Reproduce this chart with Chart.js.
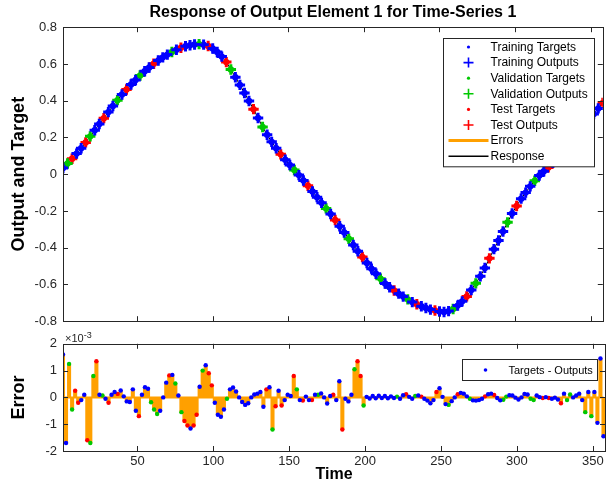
<!DOCTYPE html>
<html>
<head>
<meta charset="utf-8">
<title>Response of Output Element 1 for Time-Series 1</title>
<script src="https://cdn.jsdelivr.net/npm/chart.js@4.4.1/dist/chart.umd.min.js"></script>
<style>
  html, body { margin: 0; padding: 0; background: #fff; }
  #wrap { position: relative; width: 611px; height: 486px; overflow: hidden; }
  #top { position: absolute; left: 0; top: 0; }
  #bottom { position: absolute; left: 0; top: 330px; }
</style>
</head>
<body>
<div id="wrap">
  <canvas id="top" width="611" height="335"></canvas>
  <canvas id="bottom" width="611" height="156"></canvas>
</div>
<script>
// ---- data ----
// response curve, sampled every 3 time steps (outputs sit on the targets, error is ~1e-3)
const topTime = [1,4,7,10,13,16,19,22,25,28,31,34,37,40,43,46,49,52,55,58,
  61,64,67,70,73,76,79,82,85,88,91,94,97,100,103,106,109,112,115,118,
  121,124,127,130,133,136,139,142,145,148,151,154,157,160,163,166,169,172,175,178,
  181,184,187,190,193,196,199,202,205,208,211,214,217,220,223,226,229,232,235,238,
  241,244,247,250,253,256,259,262,265,268,271,274,277,280,283,286,289,292,295,298,
  301,304,307,310,313,316,319,322,325,328,331,334,337,340,343,346,349,352,355,358];
const targets = [0.034,0.058,0.084,0.112,0.141,0.173,0.206,0.239,0.273,0.305,
  0.338,0.371,0.403,0.434,0.461,0.488,0.513,0.537,0.560,0.581,
  0.601,0.619,0.636,0.651,0.665,0.677,0.688,0.696,0.702,0.706,
  0.708,0.705,0.698,0.684,0.665,0.640,0.610,0.570,0.528,0.486,
  0.442,0.398,0.354,0.306,0.257,0.215,0.176,0.141,0.108,0.079,
  0.050,0.023,-0.005,-0.034,-0.063,-0.094,-0.125,-0.156,-0.186,-0.217,
  -0.249,-0.283,-0.317,-0.351,-0.385,-0.419,-0.451,-0.483,-0.514,-0.542,
  -0.569,-0.595,-0.615,-0.633,-0.650,-0.666,-0.681,-0.696,-0.708,-0.719,
  -0.728,-0.737,-0.742,-0.747,-0.750,-0.745,-0.734,-0.715,-0.692,-0.665,
  -0.630,-0.594,-0.556,-0.510,-0.458,-0.408,-0.361,-0.312,-0.262,-0.214,
  -0.173,-0.133,-0.100,-0.066,-0.036,-0.007,0.016,0.037,0.062,0.090,
  0.118,0.147,0.176,0.206,0.236,0.267,0.297,0.328,0.358,0.388];
// b = training, g = validation, r = test
const topSplit = ("bgrbbrgbbr" + "bbgbrbbgbb" + "rbbbgbrbbb" + "gbrbbbrgbb" +
  "bbrbgbbbrb" + "bgbbrbbbgb" + "rbbgbbrbbb" + "gbbrbbgbrb" +
  "bbrbbbgbbr" + "bgbbrbbbgb" + "rbbbgbbrbb" + "gbrbbbgbbr").split('');

// errors (targets - outputs), units of 1e-3, every 2 time steps
const errTime = [1,3,5,7,9,11,13,15,17,19,21,23,25,27,29,31,33,35,37,39,
  41,43,45,47,49,51,53,55,57,59,61,63,65,67,69,71,73,75,77,79,
  81,83,85,87,89,91,93,95,97,99,101,103,105,107,109,111,113,115,117,119,
  121,123,125,127,129,131,133,135,137,139,141,143,145,147,149,151,153,155,157,159,
  161,163,165,167,169,171,173,175,177,179,181,183,185,187,189,191,193,195,197,199,
  201,203,205,207,209,211,213,215,217,219,221,223,225,227,229,231,233,235,237,239,
  241,243,245,247,249,251,253,255,257,259,261,263,265,267,269,271,273,275,277,279,
  281,283,285,287,289,291,293,295,297,299,301,303,305,307,309,311,313,315,317,319,
  321,323,325,327,329,331,333,335,337,339,341,343,345,347,349,351,353,355,357];
const errors = [1.6,-1.7,1.25,-0.45,0.25,-0.2,-0.1,0.1,-1.6,-1.7,
  0.8,1.35,0.1,0.07,-0.05,-0.2,0.1,0.2,0.13,0.26,
  0.04,-0.15,-0.17,0.3,-0.5,-0.7,0.1,0.38,0.32,-0.18,
  -0.45,-0.62,-0.5,0.0,0.55,0.82,0.84,0.52,0.07,-0.55,
  -0.88,-1.05,-1.16,-1.05,-0.65,0.4,1.0,1.2,0.9,0.45,
  -0.2,-0.65,-0.72,-0.45,-0.05,0.3,0.37,0.22,0.0,-0.17,
  -0.28,-0.22,0.0,0.11,0.14,0.2,-0.35,0.3,0.38,-1.2,
  -0.33,0.25,-0.3,-0.1,0.1,0.05,0.8,0.3,-0.1,-0.12,
  0.03,-0.1,-0.1,0.1,0.1,0.15,0.0,-0.23,0.05,0.1,
  -0.1,0.6,-1.2,-0.05,-0.15,0.1,1.05,1.35,0.8,-0.3,
  0.02,-0.04,0.05,-0.03,0.06,-0.02,0.05,-0.03,0.04,-0.02,
  0.03,-0.05,0.08,0.12,0.02,-0.05,0.05,0.07,0.03,-0.05,
  -0.12,-0.22,-0.1,0.2,0.34,0.02,-0.25,-0.28,-0.14,0.0,
  0.12,0.17,0.14,0.04,-0.05,-0.11,-0.12,-0.1,-0.05,0.04,
  0.12,0.14,0.09,-0.02,-0.11,-0.09,0.03,0.08,0.07,-0.01,
  -0.08,0.0,0.13,0.11,-0.05,-0.1,0.07,0.01,-0.02,0.01,
  -0.02,-0.05,-0.01,-0.08,-0.22,0.14,-0.1,0.11,0.0,0.07,
  0.14,-0.1,-0.55,0.2,-0.7,0.2,-0.95,1.45,-1.45];
const errSplit = ("bbggrrbbrg" + "grbgbrbbrb" + "bbbbbrbbbg" + "ggbbbrbgbg" +
  "rrbrrbgbrr" + "bbbbgbbbbb" + "bbbbbbbrbg" + "rbrbbbrgbr" +
  "bbrbgbbbbr" + "bbrbbbgrrg" + "bbbbbbbbbb" + "gbbrbbgbrb" +
  "bbbrbbbgbb" + "rbbbgbbbbr" + "bbrbbggbbb" + "bbbbggbbrb" +
  "rbbbrbggbb" + "bbgbgbbbb").split('');

const timeTicks = [50, 100, 150, 200, 250, 300, 350];
const topYTicks = [-0.8, -0.6, -0.4, -0.2, 0, 0.2, 0.4, 0.6, 0.8];
const errYTicks = [-2, -1, 0, 1, 2];

// ---- styling ----
const colors = { b: '#0000ff', g: '#00c800', r: '#ff0000' };
const orange = '#ffa000';
const axisColor = '#262626';
Chart.defaults.font.family = "'Liberation Sans', Arial, Helvetica, sans-serif";
Chart.defaults.color = axisColor;

function pick(times, vals, split, code) {
  const pts = [];
  times.forEach((t, i) => { if (split[i] === code) pts.push({ x: t, y: vals[i] }); });
  return pts;
}

// box + inward ticks like a matlab axes, then a legend box inside
const matlabAxes = {
  id: 'matlabAxes',
  afterDraw(chart, args, opts) {
    const { ctx, chartArea: a, scales: { x, y } } = chart;
    ctx.save();
    ctx.strokeStyle = axisColor;
    ctx.lineWidth = 1;
    ctx.beginPath();
    x.ticks.forEach(t => {
      const px = Math.round(x.getPixelForValue(t.value)) + 0.5;
      ctx.moveTo(px, a.bottom); ctx.lineTo(px, a.bottom - 5);
      ctx.moveTo(px, a.top); ctx.lineTo(px, a.top + 5);
    });
    y.ticks.forEach(t => {
      const py = Math.round(y.getPixelForValue(t.value)) + 0.5;
      ctx.moveTo(a.left, py); ctx.lineTo(a.left + 5, py);
      ctx.moveTo(a.right, py); ctx.lineTo(a.right - 5, py);
    });
    ctx.stroke();
    ctx.strokeRect(Math.round(a.left) + 0.5, Math.round(a.top) + 0.5,
      Math.round(a.right - a.left), Math.round(a.bottom - a.top));

    if (opts.exponent) {
      ctx.fillStyle = axisColor;
      ctx.textBaseline = 'alphabetic';
      ctx.font = "11px 'Liberation Sans', Arial, sans-serif";
      ctx.fillText('\u00d710', a.left + 2, a.top - 2);
      const w = ctx.measureText('\u00d710').width;
      ctx.font = "9px 'Liberation Sans', Arial, sans-serif";
      ctx.fillText('-3', a.left + 2 + w, a.top - 6);
    }

    const lg = opts.legend;
    if (lg) {
      const left = Math.round(a.right - lg.right - lg.width) + 0.5;
      const top = Math.round(a.top + lg.top) + 0.5;
      const h = lg.rowH * lg.items.length + lg.pad;
      ctx.fillStyle = '#fff';
      ctx.fillRect(left, top, lg.width, h);
      ctx.strokeStyle = axisColor;
      ctx.lineWidth = 1;
      ctx.strokeRect(left, top, lg.width, h);
      ctx.font = lg.fontSize + "px 'Liberation Sans', Arial, sans-serif";
      ctx.textBaseline = 'middle';
      lg.items.forEach((it, i) => {
        const cy = top + lg.first + i * lg.rowH;
        const cx = left + lg.symX;
        ctx.strokeStyle = it.color;
        ctx.fillStyle = it.color;
        if (it.kind === 'dot') {
          ctx.beginPath(); ctx.arc(cx, cy, it.r, 0, Math.PI * 2); ctx.fill();
        } else if (it.kind === 'cross') {
          ctx.lineWidth = 1.6;
          ctx.beginPath();
          ctx.moveTo(cx - 5, cy); ctx.lineTo(cx + 5, cy);
          ctx.moveTo(cx, cy - 5); ctx.lineTo(cx, cy + 5);
          ctx.stroke();
        } else {
          ctx.lineWidth = it.w;
          ctx.beginPath(); ctx.moveTo(cx - 20, cy); ctx.lineTo(cx + 20, cy); ctx.stroke();
        }
        ctx.fillStyle = '#000';
        ctx.fillText(it.text, left + lg.textX, cy + 0.5);
      });
    }
    ctx.restore();
  }
};

function xScale(showLabels) {
  return {
    type: 'linear', min: 1, max: 358, offset: false,
    afterBuildTicks: s => { s.ticks = timeTicks.map(v => ({ value: v })); },
    grid: { display: false, drawTicks: false },
    border: { display: false },
    ticks: { display: showLabels, font: { size: 13 }, color: axisColor, padding: 3, maxRotation: 0 },
    title: { display: showLabels, text: 'Time', color: '#000',
      font: { size: 16, weight: 'bold' }, padding: { top: 2, bottom: 2 } },
    afterFit: s => { s.height = showLabels ? 35 : 12; }
  };
}

function yScale(min, max, tickVals, label) {
  return {
    min: min, max: max,
    afterBuildTicks: s => { s.ticks = tickVals.map(v => ({ value: v })); },
    grid: { display: false, drawTicks: false },
    border: { display: false },
    ticks: { font: { size: 13 }, color: axisColor, padding: 6, callback: v => String(v) },
    title: { display: true, text: label, color: '#000',
      font: { size: 18, weight: 'bold' }, padding: { top: 8, bottom: 0 } },
    afterFit: s => { s.width = 63; }
  };
}

// ---- top: response ----
const topSets = [{
  type: 'line', label: 'Response',
  data: topTime.map((t, i) => ({ x: t, y: targets[i] })),
  borderColor: '#000', borderWidth: 1, pointRadius: 0, order: 10
}];
['b', 'g', 'r'].forEach(c => {
  topSets.push({
    label: c + ' targets', data: pick(topTime, targets, topSplit, c),
    pointStyle: 'circle', pointRadius: 3.2, pointBorderWidth: 0,
    backgroundColor: colors[c], borderColor: colors[c], order: 5
  });
  topSets.push({
    label: c + ' outputs', data: pick(topTime, targets, topSplit, c),
    pointStyle: 'cross', pointRadius: 5.2, pointBorderWidth: 3,
    backgroundColor: colors[c], borderColor: colors[c], order: 1
  });
});

new Chart(document.getElementById('top'), {
  type: 'scatter',
  data: { datasets: topSets },
  options: {
    responsive: false, animation: false, events: [], devicePixelRatio: 1,
    layout: { padding: { left: 0, right: 6, top: 0, bottom: 0 } },
    scales: { x: xScale(false), y: yScale(-0.8, 0.8, topYTicks, 'Output and Target') },
    plugins: {
      legend: { display: false }, tooltip: { enabled: false },
      title: {
        display: true, fullSize: false, text: 'Response of Output Element 1 for Time-Series 1',
        color: '#000', font: { size: 16, weight: 'bold' }, padding: { top: 3, bottom: 5 }
      },
      matlabAxes: {
        legend: {
          right: 9, top: 11, width: 151, rowH: 15.6, first: 8.5, pad: 3.5,
          symX: 25, textX: 47, fontSize: 12,
          items: [
            { kind: 'dot', r: 1.6, color: colors.b, text: 'Training Targets' },
            { kind: 'cross', color: colors.b, text: 'Training Outputs' },
            { kind: 'dot', r: 1.6, color: colors.g, text: 'Validation Targets' },
            { kind: 'cross', color: colors.g, text: 'Validation Outputs' },
            { kind: 'dot', r: 1.6, color: colors.r, text: 'Test Targets' },
            { kind: 'cross', color: colors.r, text: 'Test Outputs' },
            { kind: 'line', w: 3, color: orange, text: 'Errors' },
            { kind: 'line', w: 1.5, color: '#000', text: 'Response' }
          ]
        }
      }
    }
  },
  plugins: [matlabAxes]
});

// ---- bottom: errors ----
const errSets = [
  {
    type: 'bar', label: 'Errors',
    data: errTime.map((t, i) => ({ x: t, y: errors[i] })),
    backgroundColor: orange, borderWidth: 0, barThickness: 3.4, grouped: false, order: 4
  },
  {
    type: 'line', label: 'zero',
    data: errTime.map(t => ({ x: t, y: 0 })),
    borderColor: orange, borderWidth: 2, pointRadius: 0, order: 3
  }
];
['b', 'g', 'r'].forEach(c => {
  errSets.push({
    label: 'Targets - Outputs ' + c, data: pick(errTime, errors, errSplit, c),
    pointStyle: 'circle', pointRadius: 2.2, pointBorderWidth: 0,
    backgroundColor: colors[c], borderColor: colors[c], order: 1
  });
});

new Chart(document.getElementById('bottom'), {
  type: 'scatter',
  data: { datasets: errSets },
  options: {
    responsive: false, animation: false, events: [], devicePixelRatio: 1,
    layout: { padding: { left: 0, right: 6, top: 13, bottom: 0 } },
    scales: { x: xScale(true), y: yScale(-2, 2, errYTicks, 'Error') },
    plugins: {
      legend: { display: false }, tooltip: { enabled: false },
      matlabAxes: {
        exponent: true,
        legend: {
          right: 8, top: 15, width: 135, rowH: 17, first: 10.5, pad: 4,
          symX: 23, textX: 46, fontSize: 11,
          items: [{ kind: 'dot', r: 1.8, color: colors.b, text: 'Targets - Outputs' }]
        }
      }
    }
  },
  plugins: [matlabAxes]
});
</script>
</body>
</html>
